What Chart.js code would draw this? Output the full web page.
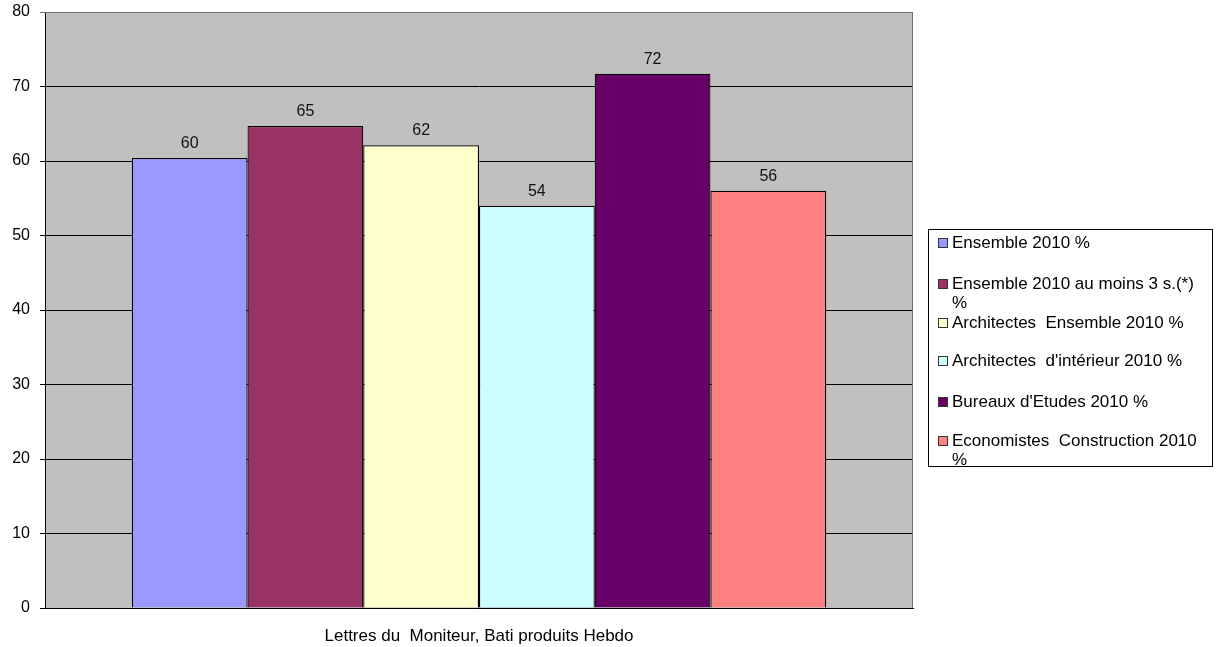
<!DOCTYPE html>
<html>
<head>
<meta charset="utf-8">
<script src="https://cdn.jsdelivr.net/npm/chart.js@4.4.1/dist/chart.umd.min.js"></script>
<style>
    body { margin: 0; background: #fff; font-family: "Liberation Sans", Arial, sans-serif; }
    #wrap { position: relative; width: 1220px; height: 647px; }
    #legend {
        position: absolute; left: 928px; top: 229px; width: 285px; height: 238px;
        border: 1px solid #000; box-sizing: border-box; background: #fff;
        font-size: 17px; color: #000;
    }
    .item { position: absolute; left: 23px; width: 254px; white-space: pre-wrap; line-height: 19px; }
    .box { position: absolute; left: -14px; top: 5px; width: 8px; height: 8px; border: 1px solid #333; }
</style>
</head>
<body>
<div id="wrap">
    <canvas id="chart"></canvas>
    <div id="legend"></div>
</div>
<script>
// chart data
const categories = [""];
const seriesNames = [
    "Ensemble 2010 %",
    "Ensemble 2010 au moins 3 s.(*) %",
    "Architectes  Ensemble 2010 %",
    "Architectes  d'intérieur 2010 %",
    "Bureaux d'Etudes 2010 %",
    "Economistes  Construction 2010 %"
];
const seriesValues = [60.4, 64.7, 62.1, 54.0, 71.7, 56.0];
const seriesColors = ["#9999FF", "#993366", "#FFFFCC", "#CCFFFF", "#660066", "#FF8080"];
const yTicks = [0, 10, 20, 30, 40, 50, 60, 70, 80];
const xTitle = "Lettres du  Moniteur, Bati produits Hebdo";

const FONT = "'Liberation Sans', Arial, sans-serif";

// grey plot background + border on top/right
const plotBackground = {
    id: "plotBackground",
    beforeDraw(chart) {
        const { ctx, chartArea: a } = chart;
        ctx.save();
        ctx.fillStyle = "#C0C0C0";
        ctx.fillRect(a.left, a.top, a.right - a.left, a.bottom - a.top);
        ctx.restore();
    },
    afterDraw(chart) {
        const { ctx, chartArea: a } = chart;
        ctx.save();
        ctx.strokeStyle = "#707070";
        ctx.lineWidth = 1;
        ctx.beginPath();
        ctx.moveTo(a.left, a.top + 0.5);
        ctx.lineTo(a.right - 0.5, a.top + 0.5);
        ctx.lineTo(a.right - 0.5, a.bottom);
        ctx.stroke();
        ctx.restore();
    }
};

// value labels above bars
const valueLabels = {
    id: "valueLabels",
    afterDatasetsDraw(chart) {
        const ctx = chart.ctx;
        ctx.save();
        ctx.font = "16px " + FONT;
        ctx.fillStyle = "#111";
        ctx.textAlign = "center";
        ctx.textBaseline = "alphabetic";
        chart.data.datasets.forEach((ds, i) => {
            const meta = chart.getDatasetMeta(i);
            meta.data.forEach((bar, j) => {
                ctx.fillText(Math.round(ds.data[j]), bar.x, bar.y - 10);
            });
        });
        ctx.restore();
    }
};

const ctx = document.getElementById("chart").getContext("2d");
new Chart(ctx, {
    type: "bar",
    data: {
        labels: categories,
        datasets: seriesNames.map((name, i) => ({
            label: name,
            data: [seriesValues[i]],
            backgroundColor: seriesColors[i],
            borderColor: "#000",
            borderWidth: 1.2,
            barPercentage: 1,
            categoryPercentage: 0.8
        }))
    },
    options: {
        responsive: true,
        maintainAspectRatio: false,
        animation: false,
        layout: { padding: { left: 0, right: 307, top: 12, bottom: 0 } },
        plugins: {
            legend: { display: false },
            tooltip: { enabled: false }
        },
        scales: {
            x: {
                grid: { display: false },
                border: { display: true, color: "#000", width: 1 },
                ticks: { display: false },
                title: {
                    display: true,
                    text: xTitle,
                    color: "#000",
                    font: { family: FONT, size: 17 },
                    padding: { top: 0, bottom: 0 }
                },
                afterFit: s => { s.height = 39; }
            },
            y: {
                min: 0,
                max: 80,
                afterBuildTicks: s => { s.ticks = yTicks.map(v => ({ value: v })); },
                grid: {
                    color: c => c.tick && c.tick.value === 80 ? "#707070" : "#000",
                    lineWidth: 1,
                    tickLength: 5,
                    drawTicks: true
                },
                border: { display: true, color: "#000", width: 1 },
                ticks: {
                    color: "#000",
                    padding: 10,
                    font: { family: FONT, size: 16 }
                },
                afterFit: s => {
                    s.width = 45;
                    s.paddingTop = 0;
                    s.paddingBottom = 0;
                }
            }
        }
    },
    plugins: [plotBackground, valueLabels]
});

// legend box
const legend = document.getElementById("legend");
const rowTops = [3, 44, 83, 121, 162, 201];
seriesNames.forEach((name, i) => {
    const item = document.createElement("div");
    item.className = "item";
    item.style.top = rowTops[i] + "px";
    item.textContent = name;
    const box = document.createElement("span");
    box.className = "box";
    box.style.background = seriesColors[i];
    item.appendChild(box);
    legend.appendChild(item);
});
</script>
</body>
</html>
